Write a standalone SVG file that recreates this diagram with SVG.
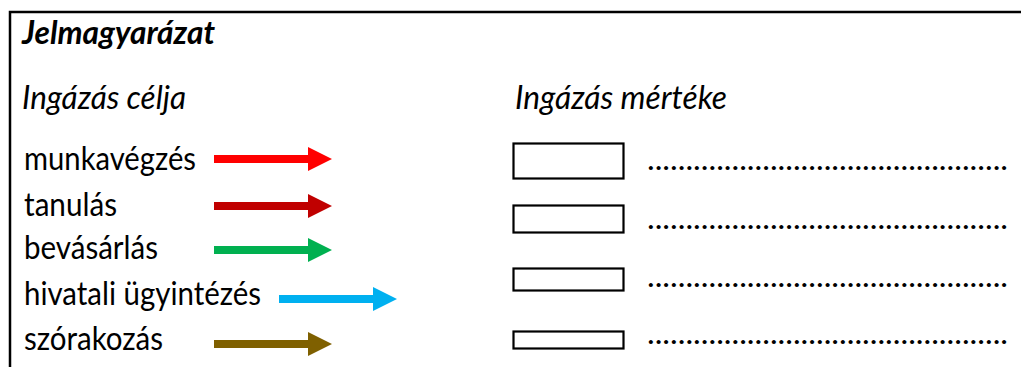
<svg xmlns="http://www.w3.org/2000/svg" width="1021" height="367" viewBox="0 0 1021 367">
<style>
text{font-family:Lato,"Open Sans","Liberation Sans",sans-serif;font-size:32px;fill:#000}
.h{font-style:italic}
.b{font-weight:bold}
.box{fill:#fff;stroke:#000;stroke-width:2.2}
.dots{font-size:31px}
</style>
<defs>
<path id="arr" d="M0,-4 H94 V-12 L118,0 L94,12 V4 H0 Z"/>
</defs>
<rect width="1021" height="367" fill="#fff"/>
<path d="M10,367 V12 H1021" fill="none" stroke="#000" stroke-width="2.5"/>
<g id="headings">
<text class="h b" x="22" y="44" textLength="193" lengthAdjust="spacingAndGlyphs">Jelmagyarázat</text>
<text class="h" x="22" y="109" textLength="164" lengthAdjust="spacingAndGlyphs">Ingázás célja</text>
<text class="h" x="515" y="109" textLength="212" lengthAdjust="spacingAndGlyphs">Ingázás mértéke</text>
</g>
<g id="purpose-munkavegzes">
<text x="24" y="170" textLength="172" lengthAdjust="spacingAndGlyphs">munkavégzés</text>
</g>
<g id="purpose-tanulas">
<text x="24" y="216" textLength="93" lengthAdjust="spacingAndGlyphs">tanulás</text>
</g>
<g id="purpose-bevasarlas">
<text x="24" y="259" textLength="134" lengthAdjust="spacingAndGlyphs">bevásárlás</text>
</g>
<g id="purpose-hivatali">
<text x="24" y="305" textLength="237" lengthAdjust="spacingAndGlyphs">hivatali ügyintézés</text>
</g>
<g id="purpose-szorakozas">
<text x="24" y="350" textLength="139" lengthAdjust="spacingAndGlyphs">szórakozás</text>
</g>
<g id="connectors">
<use href="#arr" transform="translate(214,159)" fill="#FF0000"/>
<use href="#arr" transform="translate(214,206)" fill="#C00000"/>
<use href="#arr" transform="translate(214,250)" fill="#00B050"/>
<use href="#arr" transform="translate(279,299)" fill="#00B0F0"/>
<use href="#arr" transform="translate(214,344)" fill="#7F6000"/>
</g>
<g id="scale-1">
<rect class="box" x="513.5" y="143.5" width="110" height="35"/>
<text class="dots" x="647" y="170" textLength="361" lengthAdjust="spacingAndGlyphs">...............................................</text>
</g>
<g id="scale-2">
<rect class="box" x="513.5" y="205.5" width="110" height="27"/>
<text class="dots" x="647" y="229" textLength="361" lengthAdjust="spacingAndGlyphs">...............................................</text>
</g>
<g id="scale-3">
<rect class="box" x="513.5" y="268.5" width="110" height="22"/>
<text class="dots" x="647" y="287" textLength="361" lengthAdjust="spacingAndGlyphs">...............................................</text>
</g>
<g id="scale-4">
<rect class="box" x="513.5" y="331.5" width="110" height="17"/>
<text class="dots" x="647" y="344" textLength="361" lengthAdjust="spacingAndGlyphs">...............................................</text>
</g>
</svg>
